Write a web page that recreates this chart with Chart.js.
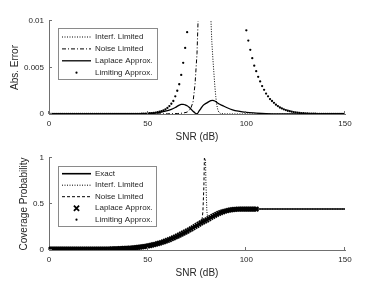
<!DOCTYPE html>
<html>
<head>
<meta charset="utf-8">
<script src="https://cdn.jsdelivr.net/npm/chart.js@4.4.0/dist/chart.umd.min.js"></script>
<style>
body{margin:0;background:#fff;}
#wrap{position:relative;width:381px;height:286px;}
canvas{position:absolute;left:0;}
</style>
</head>
<body>
<div id="wrap">
<canvas id="errChart" width="381" height="143" style="top:0"></canvas>
<canvas id="covChart" width="381" height="143" style="top:143px"></canvas>
</div>
<script>
// tick labels
const xTicks = [0, 50, 100, 150];
const yTicksErr = [0, 0.005, 0.01];
const yTicksCov = [0, 0.5, 1];

// 1 dB grid used by the marker series
const snrDense = [];
for (let s = 0; s <= 150; s++) snrDense.push(s);

// ---- top panel: absolute error ----
const interfErrSnr = [0, 70, 78, 80, 81, 82, 82.5, 83, 83.5, 84, 84.5, 85, 85.5, 86, 87, 90, 100, 150];
const interfErr = [0.45, 0.4, 0.3, 0.15, 0.05, 0.0105, 0.0078, 0.0061, 0.0046, 0.0031, 0.0019, 0.001, 0.0005, 0.0002, 0.00005, 0.00001, 0, 0];

const noiseErrSnr = [0, 50, 60, 65, 68, 70, 71, 72, 73, 74, 75, 76, 77, 78, 80, 150];
const noiseErr = [0, 0, 0.00002, 0.00005, 0.0001, 0.0002, 0.0004, 0.0007, 0.0013, 0.0032, 0.0065, 0.013, 0.03, 0.1, 0.8, 0.6];

const laplaceErrSnr = [0, 40, 50, 55, 60, 62, 64, 66, 67, 68, 69, 70, 71, 72, 73, 74, 75, 76, 77, 78, 80, 82, 83, 84, 86, 88, 90, 93, 96, 100, 105, 110, 120, 150];
const laplaceErr = [0, 0.00001, 0.00005, 0.00012, 0.00035, 0.0005, 0.0007, 0.00095, 0.00103, 0.00104, 0.00098, 0.00088, 0.00072, 0.00052, 0.0003, 0.00011, 0.00002, 0.0003, 0.0006, 0.0009, 0.0012, 0.00143, 0.00146, 0.0014, 0.0011, 0.0009, 0.0007, 0.00045, 0.0003, 0.00017, 0.0001, 0.00005, 0.00002, 0];

// one value per dB, 0..150
const limitingErr = [
  0,0,0,0,0,0,0,0,0,0, 0,0,0,0,0,0,0,0,0,0, 0,0,0,0,0,0,0,0,0,0, 0,0,0,0,0,0,0,0,0,0, 0,0,0,0,0,0,
  0.00002,0.00003,0.00004,0.00005,0.00006,0.00008,0.0001,0.00012,0.00015,0.00019,
  0.00024,0.0003,0.00039,0.0005,0.00065,0.00085,0.0011,0.0014,0.0019,0.0025,
  0.0032,0.0042,0.0055,0.0071,0.0088,0.011,0.014,0.018,0.023,0.03,
  0.04,0.04,0.04,0.04,0.04,0.04,0.04,0.04,0.04,0.04, 0.04,0.04,0.04,0.04,0.04,0.04,0.04,0.04,0.04,
  0.03,0.022,0.016,0.013,0.0105,0.009,0.0079,0.0069,0.006,0.0052,
  0.0046,0.004,0.0035,0.003,0.0026,0.0022,0.0019,0.0016,0.0014,0.0012,
  0.001,0.00085,0.0007,0.0006,0.0005,0.00042,0.00035,0.0003,0.00025,0.00021,
  0.00018,0.00015,0.00012,0.0001,0.00008,0.00007,0.00006,0.00005,0.00004,0.00003,0.00003,
  0.00002,0.00002,0.00002,0.00002,0.00002,0.00002,0.00002,0.00002,0.00002,0.00002,0.00002,0.00002,0.00002,0.00002,0.00002
];

// ---- bottom panel: coverage probability ----
const exactSnr = [0, 30, 40, 45, 50, 55, 60, 65, 70, 75, 80, 85, 90, 95, 100, 150];
const exactCov = [0.01, 0.011, 0.019, 0.028, 0.044, 0.069, 0.105, 0.151, 0.205, 0.268, 0.328, 0.388, 0.427, 0.443, 0.445, 0.445];

const interfCovSnr = [0, 60, 75, 78, 79, 79.5, 80, 80.5, 81, 85, 90, 95, 100, 150];
const interfCov = [6, 6, 4, 2.5, 1.4, 0.75, 0.42, 0.345, 0.341, 0.388, 0.427, 0.443, 0.445, 0.445];

const noiseCovSnr = [0, 30, 40, 50, 60, 70, 75, 77, 77.5, 78, 78.5, 79, 80, 150];
const noiseCov = [0.01, 0.011, 0.019, 0.044, 0.105, 0.205, 0.268, 0.296, 0.32, 0.42, 0.7, 1.3, 3, 6];

// markers (Laplace and Limiting sit on the exact curve), 0..105 dB
const approxCov = [
  0.01,0.01,0.01,0.01,0.01,0.01,0.01,0.01,0.01,0.01, 0.01,0.01,0.01,0.01,0.01,0.01,0.01,0.01,0.01,0.01,
  0.01,0.01,0.01,0.01,0.01,0.01,0.01,0.01,0.01,0.01,
  0.011,0.011,0.012,0.012,0.013,0.014,0.015,0.016,0.017,0.018,
  0.019,0.021,0.022,0.024,0.026,0.028,0.031,0.034,0.037,0.040,
  0.044,0.048,0.053,0.058,0.063,0.069,0.075,0.082,0.089,0.097,
  0.105,0.113,0.122,0.131,0.141,0.151,0.161,0.172,0.183,0.194,
  0.205,0.217,0.229,0.242,0.255,0.268,0.281,0.294,0.306,0.317,
  0.328,0.341,0.353,0.365,0.377,0.388,0.398,0.407,0.415,0.421,
  0.427,0.432,0.436,0.439,0.441,0.443,0.444,
  0.445,0.445,0.445,0.445,0.445,0.445,0.445,0.445,0.445
];

const axisColor = '#707070';
const textColor = '#262626';
Chart.defaults.font.family = '"Liberation Sans", Arial, sans-serif';
Chart.defaults.font.size = 8;
Chart.defaults.color = textColor;

const pts = (xs, ys) => ys.map((v, i) => ({x: xs[i], y: v}));

// tick marks pointing into the plot, like the original
const inTicks = {
  id: 'inTicks',
  afterDatasetsDraw(chart) {
    const {ctx, chartArea: a, scales: {x, y}} = chart;
    ctx.save();
    ctx.strokeStyle = axisColor;
    ctx.lineWidth = 1;
    ctx.beginPath();
    x.ticks.forEach(t => {
      const p = Math.round(x.getPixelForValue(t.value)) - 0.5;
      ctx.moveTo(p, a.bottom); ctx.lineTo(p, a.bottom - 3);
    });
    y.ticks.forEach(t => {
      const p = Math.round(y.getPixelForValue(t.value)) - 0.5;
      ctx.moveTo(a.left, p); ctx.lineTo(a.left + 3, p);
    });
    ctx.stroke();
    ctx.restore();
  }
};

// boxed legend inside the plot
function boxLegend(box) {
  return {
    id: 'boxLegend',
    afterDraw(chart) {
      const ctx = chart.ctx;
      ctx.save();
      ctx.fillStyle = '#fff';
      ctx.fillRect(box.x, box.y, box.w, box.h);
      ctx.strokeStyle = '#8a8a8a';
      ctx.lineWidth = 1;
      ctx.strokeRect(box.x + 0.5, box.y + 0.5, box.w, box.h);
      chart.data.datasets.forEach((ds, i) => {
        const y = box.y + box.first + i * box.step;
        const x0 = box.x + 4, x1 = box.x + 33, xm = (x0 + x1) / 2;
        ctx.strokeStyle = '#000';
        ctx.fillStyle = '#000';
        if (ds.showLine !== false) {
          ctx.lineWidth = ds.borderWidth;
          ctx.setLineDash(ds.borderDash || []);
          ctx.beginPath(); ctx.moveTo(x0, y); ctx.lineTo(x1, y); ctx.stroke();
          ctx.setLineDash([]);
        } else if (ds.pointStyle === 'crossRot') {
          const r = 2.6;
          ctx.lineWidth = 1.8;
          ctx.beginPath();
          ctx.moveTo(xm - r, y - r); ctx.lineTo(xm + r, y + r);
          ctx.moveTo(xm - r, y + r); ctx.lineTo(xm + r, y - r);
          ctx.stroke();
        } else {
          ctx.beginPath(); ctx.arc(xm, y, 1.1, 0, Math.PI * 2); ctx.fill();
        }
        ctx.fillStyle = textColor;
        ctx.font = '8px "Liberation Sans", Arial, sans-serif';
        ctx.textBaseline = 'middle';
        ctx.fillText(ds.label, box.x + 37, y);
      });
      ctx.restore();
    }
  };
}

function makeChart(id, datasets, yTicks, yTitle, yTitlePad, pad, legendBox) {
  return new Chart(document.getElementById(id), {
    type: 'line',
    data: {datasets},
    options: {
      responsive: false,
      animation: false,
      layout: {padding: pad},
      plugins: {legend: {display: false}, tooltip: {enabled: false}},
      scales: {
        x: {
          type: 'linear', min: 0, max: 150,
          afterBuildTicks: s => { s.ticks = xTicks.map(v => ({value: v})); },
          afterFit: s => { s.height = 29; },
          grid: {display: false, drawTicks: false},
          border: {color: axisColor, width: 1},
          ticks: {padding: 5, maxRotation: 0, callback: v => String(v)},
          title: {display: true, text: 'SNR (dB)', font: {size: 10}, padding: {top: 0, bottom: 0}}
        },
        y: {
          min: 0, max: yTicks[yTicks.length - 1],
          afterBuildTicks: s => { s.ticks = yTicks.map(v => ({value: v})); },
          afterFit: s => { s.width = 49; },
          grid: {display: false, drawTicks: false},
          border: {color: axisColor, width: 1},
          ticks: {padding: 5, callback: v => String(v)},
          title: {display: true, text: yTitle, font: {size: 10}, padding: {top: yTitlePad, bottom: 0}}
        }
      }
    },
    plugins: [inTicks, boxLegend(legendBox)]
  });
}

makeChart('errChart', [
  {label: 'Interf. Limited', data: pts(interfErrSnr, interfErr), borderColor: '#000', borderWidth: 1, borderDash: [1, 1.5], pointRadius: 0, order: 3},
  {label: 'Noise Limited', data: pts(noiseErrSnr, noiseErr), borderColor: '#000', borderWidth: 1, borderDash: [4, 2, 1, 2], pointRadius: 0, order: 2},
  {label: 'Laplace Approx.', data: pts(laplaceErrSnr, laplaceErr), borderColor: '#000', borderWidth: 1.3, cubicInterpolationMode: 'monotone', pointRadius: 0, order: 1},
  {label: 'Limiting Approx.', data: pts(snrDense, limitingErr), showLine: false, pointStyle: 'circle', pointRadius: 1.15, pointBackgroundColor: '#000', pointBorderWidth: 0, order: 0}
], yTicksErr, 'Abs. Error', 9, {top: 21, right: 36, bottom: 0, left: 0},
  {x: 58, y: 28, w: 99, h: 51, first: 9, step: 11.9});

makeChart('covChart', [
  {label: 'Exact', data: pts(exactSnr, exactCov), borderColor: '#000', borderWidth: 1.6, cubicInterpolationMode: 'monotone', pointRadius: 0, order: 4},
  {label: 'Interf. Limited', data: pts(interfCovSnr, interfCov), borderColor: '#000', borderWidth: 1, borderDash: [1, 1.5], pointRadius: 0, order: 3},
  {label: 'Noise Limited', data: pts(noiseCovSnr, noiseCov), borderColor: '#000', borderWidth: 1, borderDash: [3, 2], pointRadius: 0, order: 2},
  {label: 'Laplace Approx.', data: pts(snrDense, approxCov), showLine: false, pointStyle: 'crossRot', pointRadius: 3.1, pointBorderColor: '#000', pointBorderWidth: 1.8, order: 1},
  {label: 'Limiting Approx.', data: pts(snrDense, approxCov), showLine: false, pointStyle: 'circle', pointRadius: 1, pointBackgroundColor: '#000', pointBorderWidth: 0, order: 0}
], yTicksCov, 'Coverage Probability', 18, {top: 15, right: 36, bottom: 7, left: 0},
  {x: 58, y: 23, w: 98, h: 60, first: 7.7, step: 11.5});
</script>
</body>
</html>
